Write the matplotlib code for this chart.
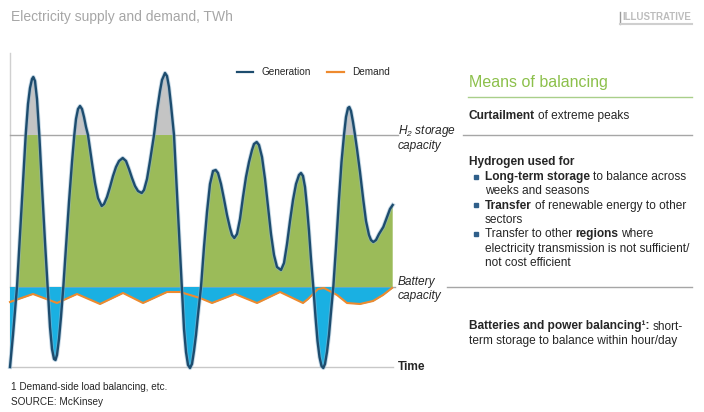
import matplotlib
matplotlib.use("Agg")
import matplotlib.pyplot as plt
from matplotlib.lines import Line2D
import numpy as np

plt.rcParams["font.family"] = ["Liberation Sans", "DejaVu Sans"]
plt.rcParams["mathtext.fontset"] = "custom"
plt.rcParams["mathtext.it"] = "Liberation Sans:italic"
plt.rcParams["mathtext.rm"] = "Liberation Sans:italic"

# generation profile (time, TWh)
gen_t = [0, 3, 7, 11, 15.7, 18, 20, 22, 23.3, 25,
         27, 29.3, 32, 35, 37.7, 40, 42, 44, 45.5, 47,
         49, 51, 53.3, 56, 59, 62, 64.3, 66, 68, 70,
         72, 74, 76, 78, 80, 82, 85, 88, 91.7, 94,
         97, 100, 103, 106, 109, 112.7, 116, 119, 122, 125,
         128, 131.7, 134, 137, 140, 144, 147, 150, 152, 155,
         157, 159, 161, 164, 166, 168, 170, 171.7, 174, 176,
         178, 180, 182, 184, 186, 188, 191, 194, 197, 200,
         203, 205.7, 208, 211, 214, 217, 220, 222, 224.3, 227,
         230, 233, 236, 239, 242, 244, 246.7, 249, 252, 255,
         258, 261, 264, 267, 271, 274, 277, 280, 283, 286,
         289, 291, 293, 295, 297, 299, 301, 303.3, 305.5, 307.5,
         309.5, 311.5, 313.3, 315, 317, 319, 321, 323.3, 326, 329,
         331.5, 334, 336, 338, 339.3, 341, 343, 345, 347, 350,
         353.3, 356, 359, 361, 363.3, 366, 369, 373.3, 377, 380,
         382.7]
gen_y = [0.0, 3.2, 8.0, 15.0, 23.2, 26.3, 27.9, 28.8, 29.0, 28.6,
         26.8, 23.2, 18.0, 12.5, 8.0, 4.0, 1.8, 0.8, 0.7, 1.2,
         2.8, 5.0, 8.0, 12.0, 16.5, 20.5, 23.2, 24.8, 25.8, 26.1,
         25.8, 25.0, 24.0, 23.2, 21.8, 20.4, 18.4, 16.9, 16.1, 16.3,
         17.0, 18.0, 19.1, 20.0, 20.6, 20.9, 20.6, 19.8, 18.9, 18.1,
         17.6, 17.4, 17.7, 18.8, 20.6, 23.2, 25.6, 27.6, 28.7, 29.4,
         29.1, 28.0, 26.2, 23.2, 19.3, 15.3, 11.3, 8.0, 3.8, 1.5,
         0.2, -0.1, 0.3, 1.6, 3.2, 5.2, 8.0, 12.0, 15.5, 18.3,
         19.6, 19.7, 19.4, 18.3, 16.8, 15.2, 13.9, 13.2, 12.9, 13.3,
         14.8, 17.0, 19.0, 20.5, 21.7, 22.3, 22.5, 22.2, 21.0, 18.8,
         16.0, 13.3, 11.2, 10.0, 9.7, 10.4, 12.3, 14.6, 16.7, 18.3,
         19.2, 19.4, 19.1, 18.0, 16.0, 13.6, 10.8, 8.0, 5.0, 2.6,
         1.0, 0.1, -0.1, 0.3, 1.5, 3.2, 5.5, 8.0, 12.0, 16.8,
         20.5, 23.2, 25.0, 25.9, 26.0, 25.6, 24.5, 23.2, 21.8, 19.5,
         16.7, 14.6, 13.2, 12.7, 12.5, 12.7, 13.3, 14.0, 15.0, 15.8,
         16.2]

# demand profile
dem_t = [0, 23, 47, 67, 90, 113, 133, 157, 170, 190,
         202, 225, 247, 270, 293, 298, 308, 314, 327, 337,
         350, 363, 373, 382]
dem_y = [6.5, 7.3, 6.4, 7.3, 6.3, 7.4, 6.4, 7.5, 7.5, 6.9,
         6.4, 7.3, 6.4, 7.5, 6.4, 6.8, 7.8, 7.9, 7.2, 6.4,
         6.3, 6.6, 7.2, 7.9]

h2_cap = 23.2
battery_cap = 8.0

GEN = "#1d4c6e"
DEM = "#ee8a2e"
GREEN = "#9bbb59"
GREY_FILL = "#c4c4c4"
BLUE = "#1ab0e2"
RULE = "#a6a6a6"
TXT = "#262626"
BODY = 8.6

W, H = 704, 412


def fx(x):
    return x / W


def fy(y):
    return 1 - y / H


fig = plt.figure(figsize=(W / 100, H / 100), dpi=100)
ax = fig.add_axes([fx(10), fy(372), 385 / W, (372 - 53) / H])
ax.set_xlim(0, 385)
ax.set_ylim(-0.5, 31.4)
ax.axis("off")

t = np.array(gen_t)
g = np.array(gen_y)
dt = np.array(dem_t)
d = np.array(dem_y)

# reference lines
ax.plot([0, 0], [0, 31.4], color="#d0d0d0", lw=1, clip_on=False, zorder=1)
ax.plot([0, 388], [h2_cap, h2_cap], color=RULE, lw=1, clip_on=False, zorder=1)
ax.plot([0, 385], [battery_cap, battery_cap], color=RULE, lw=1, clip_on=False, zorder=1)
ax.plot([0, 383], [0, 0], color="#c8c8c8", lw=1, clip_on=False, zorder=1)

# areas
ax.fill_between(t, h2_cap, g, where=g > h2_cap, interpolate=True,
                color=GREY_FILL, lw=0, zorder=2)
ax.fill_between(t, battery_cap, np.minimum(g, h2_cap), where=g > battery_cap,
                interpolate=True, color=GREEN, lw=0, zorder=2)
ax.fill_between(t, battery_cap, g, where=g < battery_cap, interpolate=True,
                color=BLUE, lw=0, zorder=2)
ax.fill_between(dt, battery_cap, d, color=BLUE, lw=0, zorder=2)

ax.plot(dt, d, color=DEM, lw=1.5, zorder=3, clip_on=False)
ax.plot(t, g, color="#8fb4cf", lw=3.0, alpha=0.5, zorder=4, clip_on=False)
ax.plot(t, g, color=GEN, lw=1.7, zorder=5, clip_on=False,
        solid_joinstyle="round")

# legend
fig.add_artist(Line2D([fx(237), fx(253)], [fy(71.7)] * 2, color=GEN, lw=1.6))
fig.add_artist(Line2D([fx(327), fx(344)], [fy(71.7)] * 2, color=DEM, lw=1.6))
fig.text(fx(262), fy(75), "Generation", fontsize=7.2, color=TXT, va="baseline")
fig.text(fx(352), fy(75), "Demand", fontsize=7.2, color=TXT, va="baseline")

# title and stamp
fig.text(fx(11), fy(21.5), "Electricity supply and demand, TWh", fontsize=10,
         color="#a6a6a6", va="baseline")
fig.text(fx(622), fy(20), "ILLUSTRATIVE", fontsize=7, color="#bdbdbd",
         fontweight="bold", va="baseline")
fig.add_artist(Line2D([fx(620), fx(620)], [fy(11.5), fy(24)], color="#9a9a9a", lw=1))
fig.add_artist(Line2D([fx(620), fx(692)], [fy(24), fy(24)], color="#cfcfcf", lw=1.5))

# labels on the right edge of the chart
fig.text(fx(398), fy(134), r"$H_2$ storage", fontsize=8.6, style="italic",
         color=TXT, va="baseline")
fig.text(fx(398), fy(148.5), "capacity", fontsize=8.6, style="italic",
         color=TXT, va="baseline")
fig.text(fx(398), fy(284.5), "Battery", fontsize=8.6, style="italic",
         color=TXT, va="baseline")
fig.text(fx(398), fy(298.5), "capacity", fontsize=8.6, style="italic",
         color=TXT, va="baseline")
fig.text(fx(398), fy(370), "Time", fontsize=8.6, fontweight="bold",
         color=TXT, va="baseline")

# right panel rules
fig.add_artist(Line2D([fx(468), fx(692)], [fy(97.3)] * 2, color="#a9cf8a", lw=1))
fig.add_artist(Line2D([fx(463), fx(692)], [fy(135)] * 2, color=RULE, lw=1))
fig.add_artist(Line2D([fx(447), fx(692)], [fy(287)] * 2, color=RULE, lw=1))

fig.text(fx(469), fy(87.3), "Means of balancing", fontsize=11.5,
         color="#8cc04b", va="baseline")

renderer = fig.canvas.get_renderer()


def width_px(s, size, bold):
    tx = fig.text(0, 0, s, fontsize=size, fontweight="bold" if bold else "normal")
    w = tx.get_window_extent(renderer).width
    tx.remove()
    return w


def runs(x, y, parts, size=BODY):
    # lay out bold / regular pieces one after another on a baseline
    for s, bold in parts:
        core = s.rstrip()
        fig.text(fx(x), fy(y), core, fontsize=size, color=TXT, va="baseline",
                 fontweight="bold" if bold else "normal")
        x += width_px(core, size, bold)
        if s != core:
            x += 0.9 * (width_px("a a", size, False) - width_px("aa", size, False))


runs(469, 119.3, [("Curtailment ", True), ("of extreme peaks", False)])
runs(469, 165, [("Hydrogen used for", True)])

bullets = [
    [[("Long-term storage ", True), ("to balance across", False)],
     [("weeks and seasons", False)]],
    [[("Transfer ", True), ("of renewable energy to other", False)],
     [("sectors", False)]],
    [[("Transfer to other ", False), ("regions ", True), ("where", False)],
     [("electricity transmission is not sufficient/", False)],
     [("not cost efficient", False)]],
]
yb = 180
for item in bullets:
    fig.add_artist(Line2D([fx(475.5)], [fy(yb - 3.3)], marker="s", markersize=2.6,
                          color="#2f5f8a", lw=0))
    for line in item:
        runs(485, yb, line)
        yb += 14.3

runs(469, 329.5, [("Batteries and power balancing\u00b9: ", True), ("short-", False)])
runs(469, 344, [("term storage to balance within hour/day", False)])

# footnotes
fig.text(fx(11), fy(389.5), "1 Demand-side load balancing, etc.", fontsize=7.2,
         color=TXT, va="baseline")
fig.text(fx(11), fy(405), "SOURCE: McKinsey", fontsize=7.2, color=TXT,
         va="baseline")

fig.savefig("out.png", dpi=100)
